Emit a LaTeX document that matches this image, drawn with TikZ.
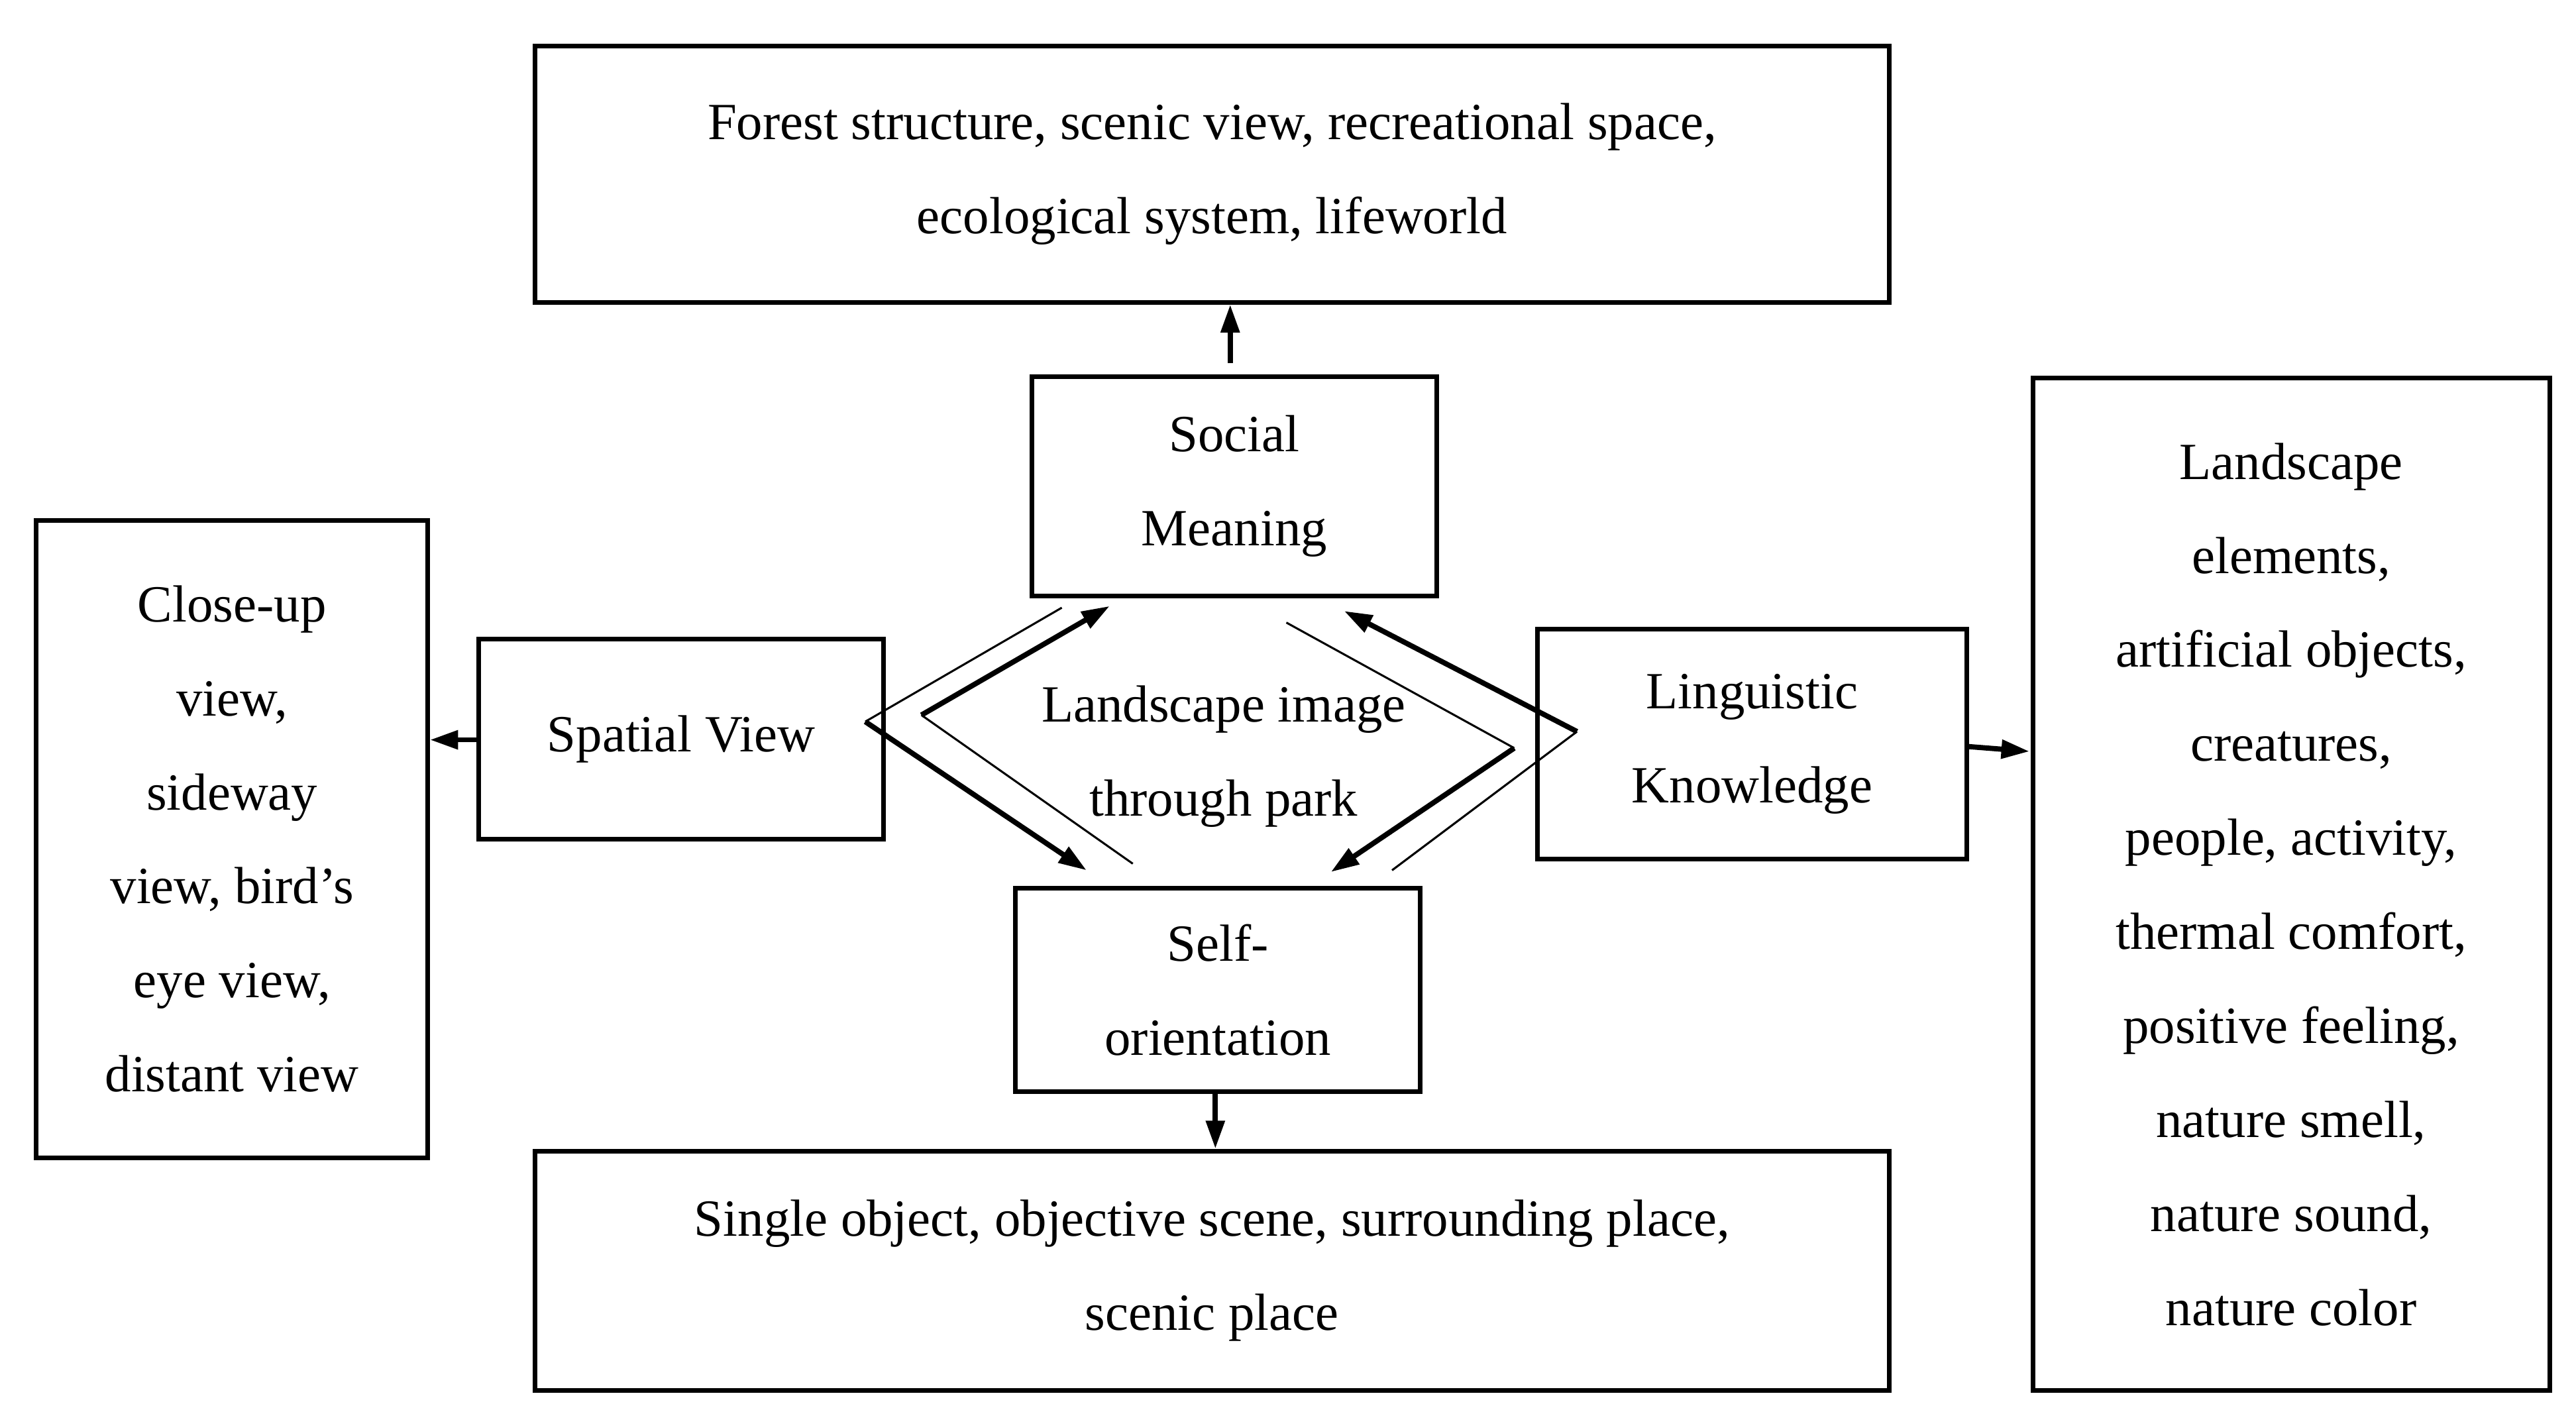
\documentclass[tikz,border=0pt]{standalone}
\usepackage{fontspec}
\setmainfont{Liberation Serif}
\usetikzlibrary{arrows.meta}
\begin{document}
\begin{tikzpicture}[x=0.02cm,y=-0.02cm,
  box/.style={draw,line width=1.6pt,inner sep=0pt,align=center,font=\fontsize{18}{32.4}\selectfont},
  tip/.style={-{Triangle[length=0.34cm,width=0.22cm]}},
  thick arr/.style={line width=1.8pt,tip},
  thin/.style={line width=0.7pt}]
\useasboundingbox (0,0) rectangle (1560,855);
\node[box,minimum width=820*0.02cm,minimum height=155*0.02cm] (top) at (734,105.5) {Forest structure, scenic view, recreational space,\\ecological system, lifeworld};
\node[box,minimum width=245*0.02cm,minimum height=133*0.02cm] (soc) at (747.5,294.5) {Social\\Meaning};
\node[box,minimum width=245*0.02cm,minimum height=121*0.02cm] (spa) at (412.5,447.5) {Spatial View};
\node[box,minimum width=260*0.02cm,minimum height=139*0.02cm] (lin) at (1061,450.5) {Linguistic\\Knowledge};
\node[box,minimum width=245*0.02cm,minimum height=123*0.02cm] (self) at (737.5,599.5) {Self-\\orientation};
\node[box,minimum width=820*0.02cm,minimum height=145*0.02cm] (bot) at (734,769.5) {Single object, objective scene, surrounding place,\\scenic place};
\node[box,minimum width=237*0.02cm,minimum height=386*0.02cm] (left) at (140.5,508) {Close-up\\view,\\sideway\\view, bird’s\\eye view,\\distant view};
\node[box,minimum width=313*0.02cm,minimum height=613*0.02cm] (right) at (1387.5,535.5) {Landscape\\elements,\\artificial objects,\\creatures,\\people, activity,\\thermal comfort,\\positive feeling,\\nature smell,\\nature sound,\\nature color};
\node[align=center,font=\fontsize{18}{32.4}\selectfont,inner sep=0pt] (ctr) at (741,458) {Landscape image\\through park};
% outer arrows
\coordinate (t1) at (745,220);
\draw[thick arr] (t1) -- (top.south -| t1);
\coordinate (b1) at (736,661);
\draw[thick arr] (b1) -- (bot.north -| b1);
\coordinate (l1) at (290,448);
\draw[thick arr] (l1) -- (left.east |- l1);
\coordinate (r1) at (1191,452);
\coordinate (r2) at (1229,455);
\draw[thick arr] (r1) -- (r2);
% center chevrons
\coordinate (a0) at (643,368); \coordinate (a1) at (524,437); \coordinate (a2) at (658,527);
\draw[thin] (a0) -- (a1);
\draw[thick arr] (a1) -- (a2);
\coordinate (b0) at (686,523); \coordinate (bb1) at (558,433); \coordinate (b2) at (672,367);
\draw[thin] (b0) -- (bb1);
\draw[thick arr] (bb1) -- (b2);
\coordinate (c0) at (779,377); \coordinate (c1) at (917,453); \coordinate (c2) at (806,528);
\draw[thin] (c0) -- (c1);
\draw[thick arr] (c1) -- (c2);
\coordinate (d0) at (843,527); \coordinate (d1) at (955,443); \coordinate (d2) at (814,370);
\draw[thin] (d0) -- (d1);
\draw[thick arr] (d1) -- (d2);
\end{tikzpicture}
\end{document}
